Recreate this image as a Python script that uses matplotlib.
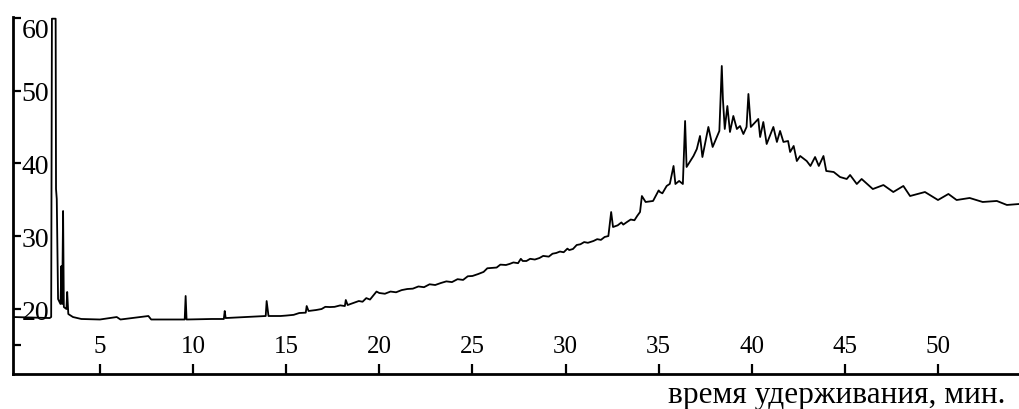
#!/usr/bin/env python3
"""
Chromatogram: detector signal vs retention time (min).
Values are read off the reference picture by eye.
"""

import matplotlib
matplotlib.use("Agg")
import matplotlib.pyplot as plt

# retention time, min
time_min = [
    0.35, 2.30, 2.38, 2.42, 2.62, 2.64, 2.68, 2.75, 2.88, 2.93, 2.97, 3.02,
    3.06, 3.20, 3.24, 3.30, 3.55, 4.0, 5.0, 5.9, 6.1, 7.6, 7.75, 9.55, 9.6,
    9.65, 11.0, 11.65, 11.7, 11.75, 13.9, 13.95, 14.05, 14.7, 15.0, 15.4, 15.7,
    16.05, 16.1, 16.2, 16.6, 16.9, 17.1, 17.35, 17.6, 17.9, 18.15, 18.2, 18.3,
    18.9, 19.1, 19.3, 19.5, 19.7, 19.85, 20.0, 20.3, 20.6, 20.9, 21.2, 21.5,
    21.8, 22.1, 22.4, 22.7, 23.0, 23.3, 23.6, 23.9, 24.2, 24.5, 24.75, 25.0,
    25.3, 25.6, 25.8, 26.0, 26.3, 26.5, 26.8, 27.0, 27.2, 27.45, 27.6, 27.7,
    27.9, 28.1, 28.35, 28.6, 28.8, 29.1, 29.3, 29.5, 29.7, 29.9, 30.1, 30.2,
    30.4, 30.6, 30.8, 31.0, 31.2, 31.5, 31.7, 31.9, 32.1, 32.3, 32.45, 32.55,
    32.8, 33.0, 33.1, 33.3, 33.5, 33.7, 33.85, 34.0, 34.1, 34.3, 34.7, 35.0,
    35.07, 35.2, 35.43, 35.6, 35.8, 35.9, 36.1, 36.3, 36.42, 36.5, 36.87, 37.05,
    37.22, 37.35, 37.67, 37.9, 38.26, 38.39, 38.45, 38.55, 38.69, 38.83, 39.01,
    39.2, 39.37, 39.55, 39.72, 39.82, 39.95, 40.35, 40.45, 40.62, 40.8, 41.16,
    41.35, 41.52, 41.7, 41.95, 42.06, 42.25, 42.42, 42.6, 42.95, 43.15, 43.4,
    43.6, 43.85, 44.0, 44.4, 44.74, 45.1, 45.28, 45.64, 45.9, 46.5, 47.07,
    47.6, 48.14, 48.5, 49.3, 50.0, 50.56, 51.0, 51.7, 52.4, 53.16, 53.7, 54.35,
]

# detector signal, arbitrary units (main peak is off scale)
signal = [
    18.90, 18.76, 18.90, 59.9, 59.9, 36.49, 35.12, 21.37, 20.69, 25.91, 20.69,
    33.47, 20.27, 20.00, 22.34, 19.31, 18.90, 18.63, 18.56, 18.90, 18.56, 19.04,
    18.56, 18.56, 21.79, 18.56, 18.63, 18.63, 19.73, 18.76, 19.04, 21.10, 19.04,
    19.04, 19.10, 19.20, 19.45, 19.50, 20.41, 19.73, 19.86, 20.00, 20.30, 20.27,
    20.30, 20.50, 20.41, 21.24, 20.55, 21.10, 21.00, 21.50, 21.30, 21.92, 22.40,
    22.20, 22.10, 22.40, 22.30, 22.60, 22.75, 22.80, 23.10, 23.00, 23.40, 23.30,
    23.57, 23.80, 23.70, 24.10, 24.00, 24.50, 24.54, 24.80, 25.10, 25.60, 25.64,
    25.70, 26.10, 26.05, 26.20, 26.40, 26.30, 26.90, 26.60, 26.60, 26.90, 26.80,
    27.01, 27.30, 27.20, 27.60, 27.70, 27.90, 27.80, 28.30, 28.10, 28.25, 28.80,
    28.90, 29.20, 29.10, 29.35, 29.60, 29.50, 29.90, 30.03, 33.33, 31.27, 31.50,
    31.90, 31.60, 31.96, 32.30, 32.20, 32.80, 33.33, 35.53, 34.71, 34.85, 36.30,
    36.08, 35.90, 36.91, 37.20, 39.66, 37.18, 37.60, 37.18, 45.84, 39.52, 41.03,
    41.99, 43.78, 40.89, 45.02, 42.27, 44.47, 53.40, 48.87, 44.74, 47.90, 44.33,
    46.53, 44.74, 45.15, 44.05, 45.02, 49.55, 45.02, 46.12, 43.64, 45.70, 42.68,
    45.02, 42.96, 44.47, 42.96, 43.09, 41.58, 42.41, 40.34, 41.03, 40.34, 39.66,
    40.89, 39.66, 41.03, 38.97, 38.83, 38.14, 37.87, 38.42, 37.18, 37.87, 36.49,
    37.04, 36.08, 36.91, 35.53, 36.08, 34.98, 35.81, 34.98, 35.26, 34.71, 34.85,
    34.30, 34.43,
]

x_ticks = [5, 10, 15, 20, 25, 30, 35, 40, 45, 50]
y_ticks = [15, 20, 30, 40, 50, 60]
y_tick_labels = ['', '20', '30', '40', '50', '60']
x_label = 'время удерживания, мин.'

plt.rcParams['font.family'] = ['Liberation Serif', 'DejaVu Serif']

W, H = 1019, 410
fig = plt.figure(figsize=(W / 100, H / 100), dpi=100)
ax = fig.add_axes([13 / W, 35 / H, 1 - 13 / W, (375 - 17.5) / H])

ax.plot(time_min, signal, color='black', linewidth=1.3)

ax.set_xlim(0.33, 54.35)
ax.set_ylim(11.07, 60.2)

for side in ['top', 'right']:
    ax.spines[side].set_visible(False)
for side in ['left', 'bottom']:
    ax.spines[side].set_linewidth(2.0)

# ticks point into the plot, labels sit inside too
ax.set_xticks(x_ticks)
ax.set_xticklabels([str(t) for t in x_ticks])
ax.tick_params(axis='x', direction='in', length=7, width=1.6, pad=-12,
               labelsize=18)
for lab in ax.get_xticklabels():
    lab.set_verticalalignment('bottom')

ax.set_yticks(y_ticks)
ax.set_yticklabels(y_tick_labels)
ax.tick_params(axis='y', direction='in', length=6, width=1.6, pad=-6,
               labelsize=20)
for lab in ax.get_yticklabels():
    lab.set_horizontalalignment('left')
ax.get_yticklabels()[-1].set_verticalalignment('top')

fig.text(1005 / W, 1 - 403 / H, x_label, ha='right', va='baseline',
         fontsize=22.5)

fig.savefig('out.png', dpi=100)
